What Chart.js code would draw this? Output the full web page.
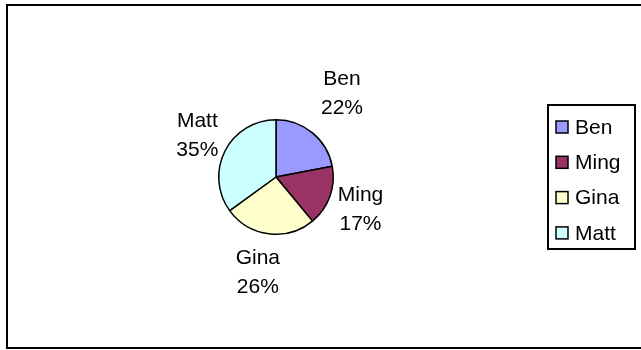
<!DOCTYPE html>
<html>
<head>
<meta charset="utf-8">
<script src="https://cdn.jsdelivr.net/npm/chart.js@4/dist/chart.umd.min.js"></script>
<style>
  html, body { margin: 0; padding: 0; background: #fff; }
  #wrap { width: 641px; height: 350px; }
</style>
</head>
<body>
<div id="wrap"><canvas id="myChart" width="641" height="350"></canvas></div>
<script>
// data
var names = ['Ben', 'Ming', 'Gina', 'Matt'];
var shares = [22, 17, 26, 35];
var sliceColors = ['#9999FF', '#993366', '#FFFFCC', '#CCFFFF'];

// style: small shifts of the outside labels, the way Excel fits them
var labelNudge = [[4, -8], [-7, 0], [-6, -1], [8, 3]];
var FONT = '"Liberation Sans", Arial, sans-serif';

// outer frame
var framePlugin = {
  id: 'frame',
  beforeDraw: function(chart) {
    var ctx = chart.ctx;
    ctx.save();
    ctx.fillStyle = '#fff';
    ctx.fillRect(0, 0, chart.width, chart.height);
    ctx.strokeStyle = '#000';
    ctx.lineWidth = 2;
    ctx.strokeRect(7, 5, 640, 343);
    ctx.restore();
  }
};

// name + percent outside each slice
var sliceLabels = {
  id: 'sliceLabels',
  afterDatasetsDraw: function(chart) {
    var ctx = chart.ctx;
    var meta = chart.getDatasetMeta(0);
    var total = shares.reduce(function(a, b) { return a + b; }, 0);
    ctx.save();
    ctx.font = '21px ' + FONT;
    ctx.fillStyle = '#000';
    ctx.textAlign = 'center';
    ctx.textBaseline = 'middle';
    meta.data.forEach(function(arc, i) {
      var p = arc.getProps(['x', 'y', 'startAngle', 'endAngle', 'outerRadius'], true);
      var mid = (p.startAngle + p.endAngle) / 2;
      var r = p.outerRadius + 40;
      var cx = p.x + Math.cos(mid) * r + labelNudge[i][0];
      var cy = p.y + Math.sin(mid) * r + labelNudge[i][1];
      ctx.fillText(names[i], cx, cy - 14.5);
      ctx.fillText(Math.round(shares[i] / total * 100) + '%', cx, cy + 14.5);
    });
    ctx.restore();
  }
};

// boxed legend on the right
var boxLegend = {
  id: 'boxLegend',
  afterDraw: function(chart) {
    var ctx = chart.ctx;
    ctx.save();
    ctx.strokeStyle = '#000';
    ctx.lineWidth = 2;
    ctx.strokeRect(548, 105, 87, 144);
    ctx.font = '21px ' + FONT;
    ctx.textAlign = 'left';
    ctx.textBaseline = 'middle';
    names.forEach(function(n, i) {
      var y = 127 + i * 35.3;
      ctx.fillStyle = sliceColors[i];
      ctx.fillRect(556, y - 6, 12, 12);
      ctx.lineWidth = 1.5;
      ctx.strokeRect(556, y - 6, 12, 12);
      ctx.fillStyle = '#000';
      ctx.fillText(n, 575, y + 1);
    });
    ctx.restore();
  }
};

var chart = new Chart(document.getElementById('myChart'), {
  type: 'pie',
  data: {
    labels: names,
    datasets: [{
      data: shares,
      backgroundColor: sliceColors,
      borderColor: '#000',
      borderWidth: 1.5,
      hoverOffset: 0
    }]
  },
  options: {
    responsive: false,
    animation: false,
    events: [],
    layout: { padding: { left: 218, right: 307, top: 119, bottom: 115 } },
    plugins: {
      legend: { display: false },
      tooltip: { enabled: false }
    }
  },
  plugins: [framePlugin, sliceLabels, boxLegend]
});
</script>
</body>
</html>
